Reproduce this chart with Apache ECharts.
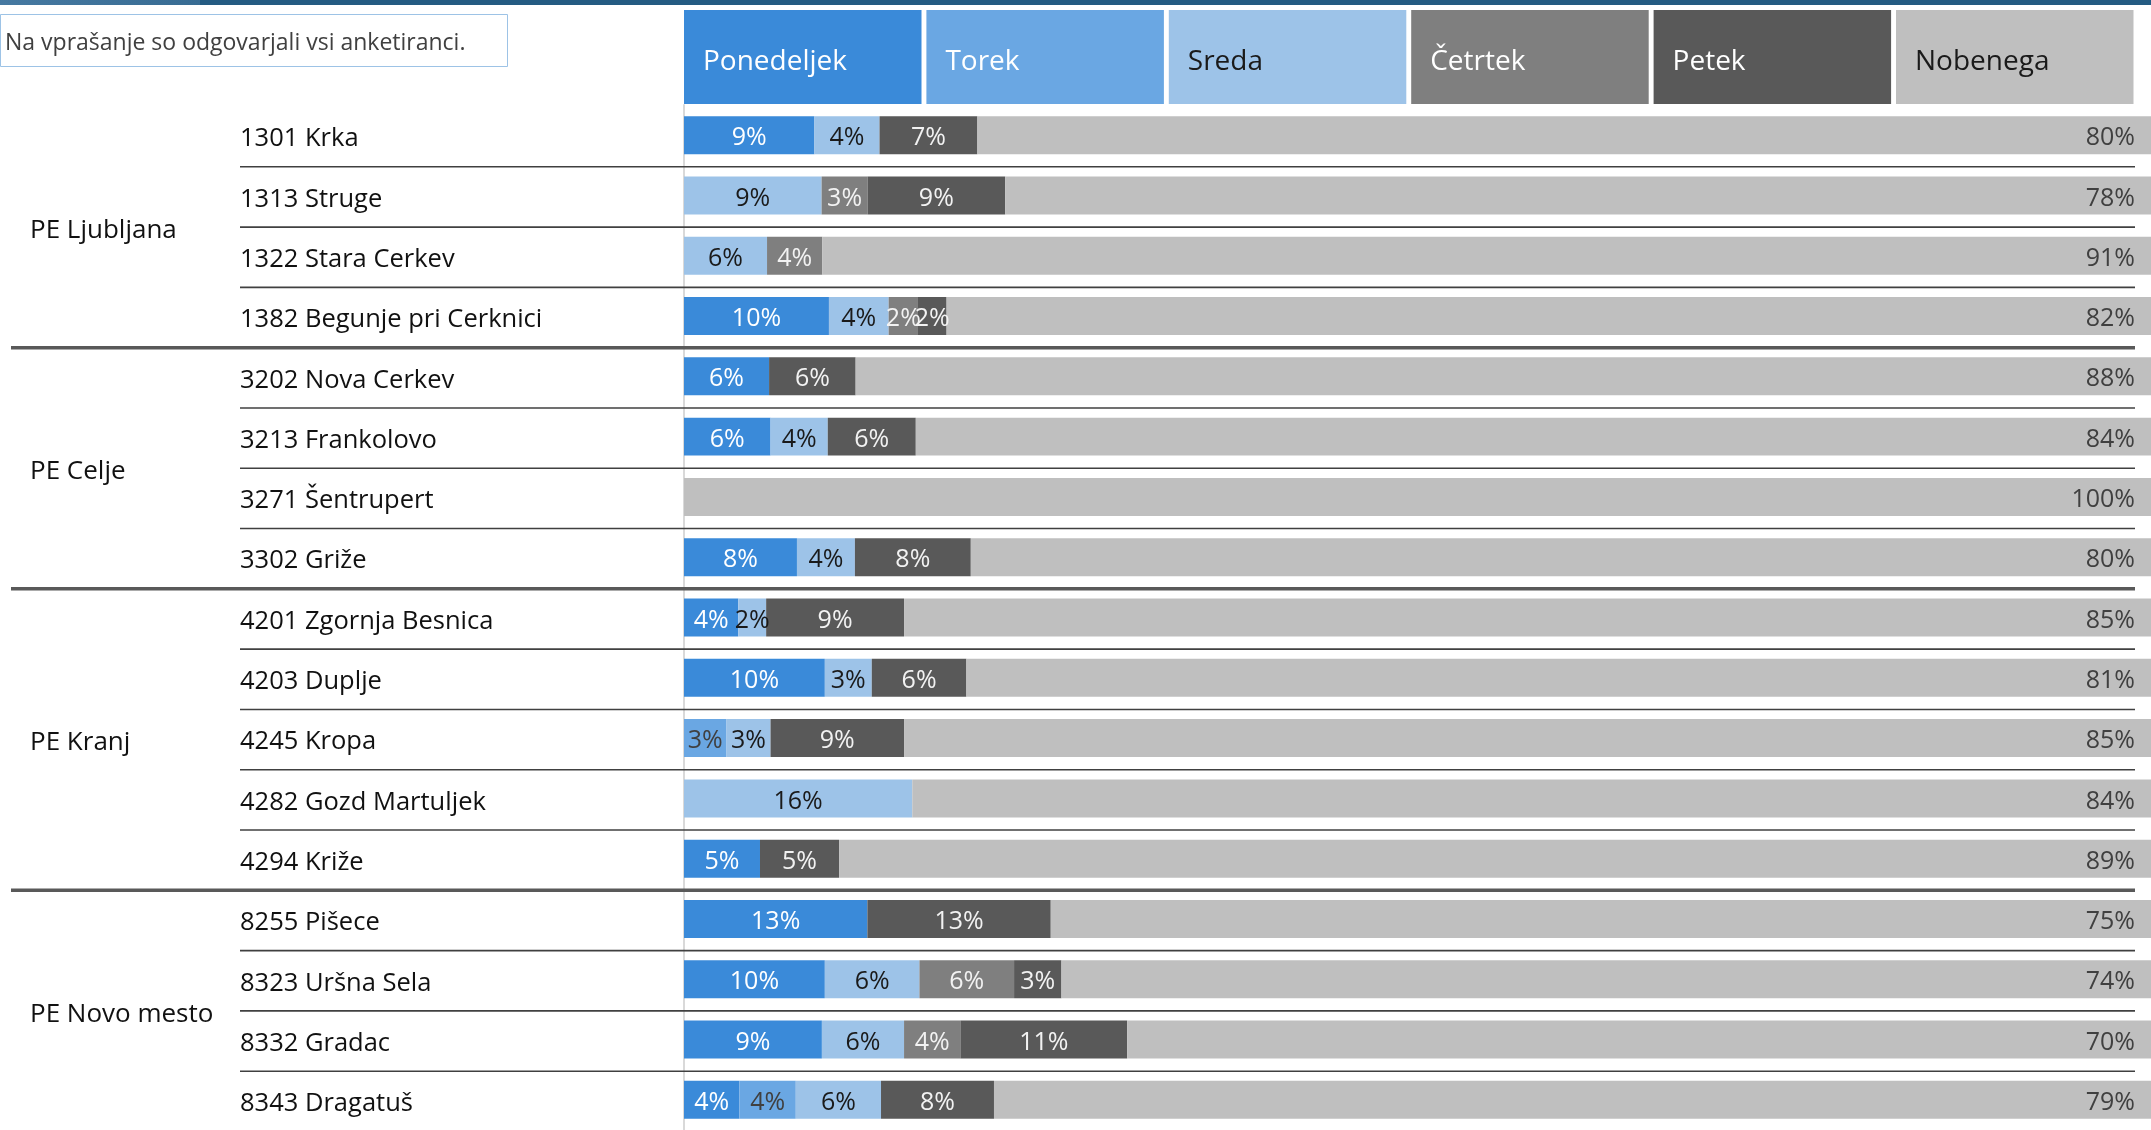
<!DOCTYPE html>
<html>
<head>
<meta charset="utf-8">
<script src="https://cdn.jsdelivr.net/npm/echarts@6/dist/echarts.min.js"></script>
<style>
html,body{margin:0;padding:0;background:#fff;}
#chart{width:2151px;height:1130px;}
</style>
</head>
<body>
<div id="chart"></div>
<script>
// ---------- DATA ----------
const noteText = 'Na vprašanje so odgovarjali vsi anketiranci.';
const categories = [
  '1301 Krka','1313 Struge','1322 Stara Cerkev','1382 Begunje pri Cerknici',
  '3202 Nova Cerkev','3213 Frankolovo','3271 Šentrupert','3302 Griže',
  '4201 Zgornja Besnica','4203 Duplje','4245 Kropa','4282 Gozd Martuljek','4294 Križe',
  '8255 Pišece','8323 Uršna Sela','8332 Gradac','8343 Dragatuš'
];
const groupNames = ['PE Ljubljana','PE Celje','PE Kranj','PE Novo mesto'];
const groupSizes = [4, 4, 5, 4];
const seriesNames = ['Ponedeljek','Torek','Sreda','Četrtek','Petek','Nobenega'];
const ponedeljek = [8.89, null, null, 9.88, 5.8, 5.9, null, 7.7, 3.7, 9.6, null, null, 5.18, 12.5, 9.6, 9.4, 3.78];
const torek      = [null, null, null, null, null, null, null, null, null, null, 2.9, null, null, null, null, null, 3.84];
const sreda      = [4.44, 9.38, 5.66, 4.07, null, 3.9, null, 3.95, 1.9, 3.2, 3.0, 15.56, null, null, 6.45, 5.6, 5.81];
const cetrtek    = [null, 3.13, 3.77, 2.0, null, null, null, null, null, null, null, null, null, null, 6.45, 3.84, null];
const petek      = [6.67, 9.38, null, 1.95, 5.9, 6.0, null, 7.9, 9.4, 6.45, 9.1, null, 5.39, 12.5, 3.23, 11.37, 7.70];
const nobenega   = [80.0, 78.13, 90.57, 82.1, 88.3, 84.2, 100, 80.45, 85.0, 80.75, 85.0, 84.44, 89.43, 75.0, 74.27, 69.8, 78.87];
const seriesValues = [ponedeljek, torek, sreda, cetrtek, petek, nobenega];

// ---------- STYLE ----------
const FONT = "'Open Sans', 'Noto Sans', sans-serif";
const colors = ['#3a8ad9','#6aa7e3','#9dc3e8','#7f7f7f','#595959','#bfbfbf'];
const labelColors = ['#ffffff','#404040','#1a1a1a','#f2f2f2','#f2f2f2','#404040'];
const headerTextColors = ['#ffffff','#ffffff','#1a1a1a','#ffffff','#ffffff','#1a1a1a'];

const chart = echarts.init(document.getElementById('chart'), null, {renderer:'canvas'});

const series = seriesNames.map((name, si) => ({
  name: name,
  type: 'bar',
  stack: 'total',
  barWidth: '63%',
  data: seriesValues[si],
  itemStyle: { color: colors[si] },
  label: {
    show: true,
    position: si === 5 ? 'insideRight' : 'inside',
    distance: 16,
    offset: [0, 3],
    fontSize: 25,
    fontFamily: FONT,
    color: labelColors[si],
    formatter: p => (p.value == null || p.value === 0) ? '' : Math.round(p.value) + '%'
  },
  emphasis: { disabled: true }
}));

chart.setOption({
  animation: false,
  textStyle: { fontFamily: FONT },
  grid: { left: 684, right: 0, top: 105, height: 1026, containLabel: false },
  xAxis: { type: 'value', min: 0, max: 100, show: false },
  yAxis: {
    type: 'category',
    inverse: true,
    data: categories,
    axisLine: { show: true, lineStyle: { color: '#d9d9d9', width: 2 } },
    axisTick: { show: false },
    splitLine: { show: false },
    axisLabel: {
      align: 'left',
      verticalAlign: 'top',
      lineHeight: 8,
      margin: 444,
      fontSize: 25.5,
      color: '#111111',
      fontFamily: FONT
    }
  },
  series: series
});

// ---------- DECORATION (derived from the chart's own scale) ----------
const yc = i => chart.convertToPixel({ yAxisIndex: 0 }, i);
const band = yc(1) - yc(0);
const graphics = [];

// top band
graphics.push({ type: 'rect', shape: { x: 0, y: 0, width: 2151, height: 5 }, style: { fill: '#245b82' }, silent: true });
graphics.push({ type: 'rect', shape: { x: 0, y: 0, width: 200, height: 5 },
  style: { fill: new echarts.graphic.LinearGradient(0, 0, 1, 0, [{offset:0,color:'#4679a1'},{offset:1,color:'#386c93'}]) }, silent: true });

// note box
graphics.push({ type: 'rect', shape: { x: 0.5, y: 14.5, width: 507, height: 52 }, style: { fill: '#ffffff', stroke: '#9dc3e6', lineWidth: 1 }, silent: true });
graphics.push({ type: 'text', x: 5, y: 43, style: { text: noteText, font: '23px ' + FONT, fill: '#404040', verticalAlign: 'middle' }, silent: true });

// header boxes (legend)
const hx0 = 684, hPitch = 242.4, hW = 237.5, hY = 10, hH = 94;
seriesNames.forEach((name, i) => {
  graphics.push({ type: 'rect', shape: { x: hx0 + i * hPitch, y: hY, width: hW, height: hH }, style: { fill: colors[i] }, silent: true });
  graphics.push({ type: 'text', x: hx0 + i * hPitch + 19, y: hY + hH / 2 + 5,
    style: { text: name, font: '28px ' + FONT, fill: headerTextColors[i], verticalAlign: 'middle' }, silent: true });
});

// separators and group labels
let start = 0;
const groupEnds = [];
groupSizes.forEach((sz, gi) => {
  const end = start + sz - 1;
  groupEnds.push(end);
  const yMid = (yc(start) + yc(end)) / 2;
  graphics.push({ type: 'text', x: 30, y: yMid + 5, style: { text: groupNames[gi], font: '26px ' + FONT, fill: '#111111', verticalAlign: 'middle' }, silent: true });
  start = end + 1;
});
for (let i = 0; i < categories.length - 1; i++) {
  const y = yc(i) + band / 2 + 1.5;
  const thick = groupEnds.indexOf(i) >= 0;
  graphics.push({
    type: 'line',
    shape: { x1: thick ? 11 : 240, y1: y, x2: 2135, y2: y },
    style: { stroke: thick ? '#595959' : '#404040', lineWidth: thick ? 3.5 : 1.6 },
    silent: true, z: 5
  });
}

chart.setOption({ graphic: graphics });
</script>
</body>
</html>
